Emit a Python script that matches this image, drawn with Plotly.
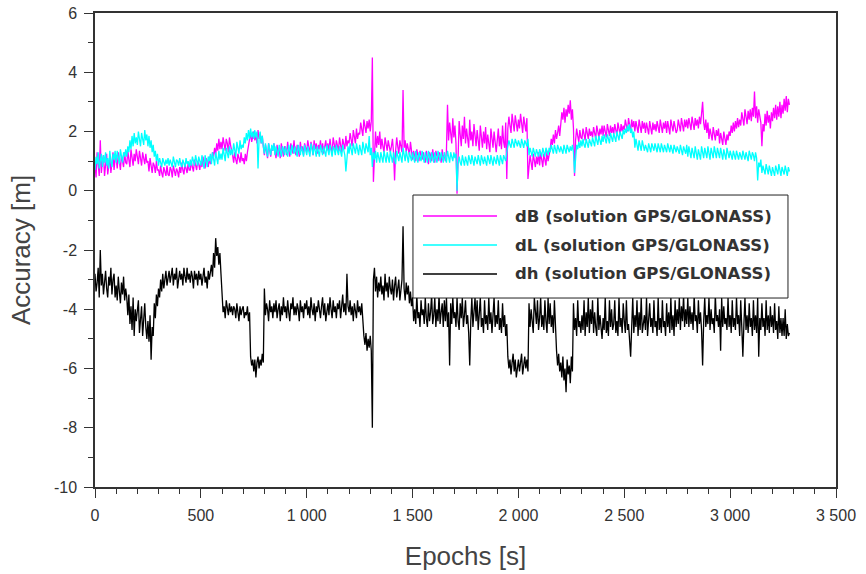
import plotly.graph_objects as go

# Epochs [s] (one sample every 5 s)
epochs = list(range(0, 3285, 5))

# dB (solution GPS/GLONASS) [m]
dB = [
    0.9, 0.45, 1.3, 0.7, 0.5, 1.7, 0.6, 1.0, 1.2, 0.5,
    0.8, 1.25, 0.55, 1.0, 1.15, 0.6, 0.95, 1.3, 0.7, 1.1,
    1.1, 0.75, 1.3, 0.9, 0.7, 1.2, 1.05, 0.8, 1.3, 0.95,
    0.9, 1.35, 1.05, 0.8, 1.4, 1.15, 0.85, 1.25, 1.0, 1.4,
    1.2, 0.9, 1.35, 1.0, 0.85, 1.3, 1.15, 0.9, 1.25, 0.95,
    1.0, 0.65, 1.1, 0.75, 0.6, 0.95, 0.85, 0.6, 1.0, 0.7,
    0.7, 0.5, 0.85, 0.6, 0.45, 0.8, 0.65, 0.5, 0.85, 0.55,
    0.5, 0.8, 0.7, 0.45, 0.85, 0.6, 0.5, 0.75, 0.65, 0.45,
    0.8, 0.6, 0.95, 0.7, 0.55, 0.9, 0.75, 0.6, 0.95, 0.7,
    0.7, 1.0, 0.8, 0.65, 1.05, 0.85, 0.7, 1.0, 0.9, 0.7,
    1.0, 0.8, 1.15, 0.9, 0.75, 1.1, 1.0, 0.8, 1.15, 0.9,
    1.0, 1.3, 1.15, 1.45, 1.2, 1.6, 1.35, 1.75, 1.4, 1.65,
    1.4, 1.8, 1.5, 1.35, 1.75, 1.6, 1.3, 1.8, 1.55, 1.4,
    1.2, 0.95, 1.3, 1.05, 0.9, 1.25, 1.1, 0.95, 1.3, 1.0,
    1.1, 0.9, 1.25, 1.0, 1.3, 1.55, 1.7, 1.95, 1.65, 1.9,
    2.0, 1.7, 1.9, 1.6, 2.05, 1.75, 1.9, 1.6, 1.85, 1.5,
    1.2, 1.55, 1.3, 1.1, 1.6, 1.4, 1.15, 1.5, 1.35, 1.6,
    1.3, 1.1, 1.55, 1.25, 1.45, 1.1, 1.6, 1.3, 1.15, 1.5,
    1.45, 1.2, 1.65, 1.35, 1.15, 1.6, 1.4, 1.25, 1.7, 1.3,
    1.2, 1.55, 1.4, 1.15, 1.65, 1.35, 1.5, 1.2, 1.6, 1.45,
    1.3, 1.7, 1.45, 1.25, 1.65, 1.5, 1.2, 1.7, 1.4, 1.6,
    1.25, 1.55, 1.4, 1.7, 1.3, 1.6, 1.25, 1.5, 1.7, 1.35,
    1.6, 1.3, 1.75, 1.45, 1.3, 1.8, 1.5, 1.35, 1.7, 1.55,
    1.35, 1.8, 1.5, 1.3, 1.75, 1.6, 1.4, 1.85, 1.5, 1.7,
    1.6, 1.95, 1.7, 1.5, 2.05, 1.8, 1.6, 2.1, 1.75, 1.95,
    1.9, 2.3, 2.05, 1.85, 2.4, 2.15, 1.95, 2.35, 2.1, 2.4,
    2.0, 2.35, 4.5, 0.3, 1.6, 2.0, 1.45, 1.85, 1.55, 2.0,
    1.4, 1.75, 1.5, 1.3, 1.8, 1.6, 1.35, 1.7, 1.55, 1.3,
    1.5, 1.75, 1.3, 0.35, 1.35, 1.8, 1.5, 1.25, 1.7, 1.45,
    1.3, 3.4, 1.45, 1.7, 1.3, 1.6, 1.45, 1.2, 1.65, 1.35,
    1.05, 1.35, 1.2, 1.0, 1.4, 1.15, 1.0, 1.35, 1.2, 1.05,
    1.3, 1.1, 0.95, 1.35, 1.15, 0.9, 1.3, 1.2, 1.0, 1.4,
    1.1, 0.95, 1.35, 1.15, 1.0, 1.3, 1.2, 0.95, 1.4, 1.1,
    1.2, 1.0, 1.35, 2.9, 1.7, 2.3, 1.9, 1.6, 2.45, 1.8,
    2.2, 1.6, -0.1, 1.7, 2.35, 1.9, 1.5, 2.2, 1.75, 2.5,
    1.6, 2.1, 1.85, 1.45, 2.4, 1.7, 2.0, 1.5, 2.25, 1.8,
    1.5, 2.05, 1.7, 1.35, 2.2, 1.8, 1.45, 2.0, 1.6, 2.15,
    1.4, 1.9, 1.65, 1.3, 2.1, 1.75, 1.45, 2.0, 1.55, 1.3,
    1.7, 2.1, 1.5, 1.85, 1.4, 2.2, 1.65, 1.45, 2.3, 0.4,
    2.1, 2.5, 2.2, 1.95, 2.6, 2.3, 2.0, 2.55, 2.25, 2.0,
    2.4, 2.1, 2.6, 2.25, 1.95, 2.5, 2.2, 2.0, 2.45, 0.4,
    0.8, 1.2, 0.95, 0.7, 1.25, 1.0, 0.8, 1.15, 0.9, 1.3,
    0.85, 1.3, 1.0, 0.8, 1.25, 1.1, 0.85, 1.35, 1.0, 1.2,
    1.4, 1.75, 1.55, 1.9, 1.6, 2.05, 1.75, 1.95, 2.2, 1.85,
    2.2, 2.65, 2.4, 2.8, 2.3, 2.75, 2.5, 2.9, 2.6, 3.05,
    2.4, 2.75, 2.1, 0.5, 1.7, 2.1, 1.85, 1.65, 2.05, 1.8,
    1.75, 2.1, 1.9, 1.7, 2.15, 1.95, 1.75, 2.1, 1.85, 2.0,
    1.8, 2.15, 1.95, 1.75, 2.2, 2.0, 1.8, 2.1, 1.9, 2.2,
    1.85, 2.2, 2.0, 1.8, 2.25, 2.05, 1.85, 2.2, 1.95, 2.15,
    1.9, 2.25, 2.05, 1.85, 2.3, 2.1, 1.9, 2.25, 2.0, 2.2,
    2.05, 2.4, 2.15, 2.0, 2.45, 2.2, 2.0, 2.4, 2.15, 2.35,
    2.0, 2.35, 2.1, 1.95, 2.4, 2.15, 1.95, 2.35, 2.1, 2.3,
    1.95, 2.3, 2.1, 1.9, 2.35, 2.1, 1.9, 2.3, 2.05, 2.25,
    2.0, 2.35, 2.1, 1.95, 2.4, 2.15, 1.95, 2.3, 2.1, 2.35,
    1.95, 2.35, 2.15, 1.9, 2.4, 2.1, 2.0, 2.35, 2.15, 1.95,
    2.05, 2.4, 2.2, 2.0, 2.45, 2.2, 2.0, 2.4, 2.15, 2.4,
    2.1, 2.45, 2.2, 2.05, 2.5, 2.25, 2.05, 2.45, 2.2, 2.4,
    2.1, 2.5, 2.25, 2.6, 3.0, 2.3, 2.05, 2.4, 1.95, 2.3,
    1.75, 2.1, 1.9, 1.7, 2.15, 1.9, 1.7, 2.05, 1.85, 2.1,
    1.6, 1.95, 1.75, 1.55, 2.0, 1.75, 1.55, 1.9, 1.7, 2.0,
    1.85, 2.2, 1.95, 2.3, 2.0, 2.35, 2.1, 2.45, 2.15, 2.4,
    2.2, 2.65, 2.4, 2.2, 2.75, 2.45, 2.25, 2.7, 2.4, 2.75,
    2.35, 2.8, 2.5, 3.35, 2.45, 2.85, 2.3, 2.75, 2.5, 2.3,
    1.5, 2.25, 2.0, 2.6, 2.2, 2.7, 2.3, 2.55, 2.1, 2.65,
    2.35, 2.8, 2.45, 2.9, 2.4, 2.85, 2.5, 3.0, 2.45, 2.9,
    2.6, 3.1, 2.7, 3.2, 2.65, 3.1, 2.9,
]

# dL (solution GPS/GLONASS) [m]
dL = [
    0.7, 1.15, 0.9, 1.3, 0.75, 1.05, 1.25, 0.8, 1.2, 0.95,
    1.3, 0.85, 1.1, 0.75, 1.35, 1.0, 0.8, 1.25, 1.05, 1.35,
    0.95, 1.35, 1.1, 0.9, 1.4, 1.2, 0.95, 1.3, 1.15, 1.4,
    1.15, 1.5, 1.3, 1.7, 1.4, 1.85, 1.5, 1.95, 1.6, 1.8,
    1.55, 2.0, 1.7, 1.5, 1.95, 1.8, 1.55, 2.05, 1.7, 1.9,
    1.5, 1.85, 1.45, 1.7, 1.3, 1.55, 1.15, 1.35, 1.0, 1.25,
    0.85, 1.1, 0.95, 0.8, 1.1, 1.0, 0.85, 1.05, 0.9, 1.1,
    0.85, 1.05, 0.95, 0.8, 1.15, 0.9, 0.8, 1.05, 1.0, 0.85,
    1.1, 0.9, 0.8, 1.05, 0.95, 0.8, 1.1, 0.9, 1.0, 0.8,
    1.05, 0.85, 1.15, 0.95, 0.85, 1.2, 1.0, 0.85, 1.15, 0.95,
    0.85, 1.2, 0.95, 0.75, 1.2, 1.0, 0.8, 1.15, 1.0, 1.25,
    0.9, 1.3, 1.05, 0.85, 1.3, 1.1, 0.9, 1.35, 1.05, 1.25,
    1.05, 1.45, 1.2, 1.0, 1.45, 1.25, 1.1, 1.5, 1.2, 1.4,
    1.2, 1.6, 1.35, 1.15, 1.65, 1.4, 1.25, 1.7, 1.4, 1.55,
    1.45, 1.8, 1.6, 1.95, 1.7, 2.05, 1.75, 2.1, 1.8, 2.0,
    1.75, 2.05, 1.8, 2.0, 0.75, 1.75, 2.0, 1.6, 1.85, 1.5,
    1.25, 1.6, 1.35, 1.15, 1.6, 1.4, 1.2, 1.55, 1.35, 1.6,
    1.2, 1.5, 1.35, 1.15, 1.55, 1.3, 1.15, 1.5, 1.4, 1.2,
    1.5, 1.3, 1.15, 1.55, 1.35, 1.2, 1.55, 1.4, 1.25, 1.5,
    1.3, 1.15, 1.55, 1.35, 1.2, 1.5, 1.3, 1.15, 1.55, 1.4,
    1.2, 1.5, 1.35, 1.15, 1.6, 1.3, 1.2, 1.55, 1.35, 1.15,
    1.5, 1.3, 1.15, 1.55, 1.35, 1.2, 1.5, 1.3, 1.15, 1.55,
    1.35, 1.2, 1.55, 1.3, 1.15, 1.5, 1.4, 1.2, 1.55, 1.35,
    1.2, 1.5, 1.3, 1.15, 1.55, 1.35, 1.2, 0.65, 1.3, 1.5,
    1.25, 1.6, 1.4, 1.2, 1.6, 1.35, 1.25, 1.6, 1.4, 1.2,
    1.55, 1.35, 1.2, 1.65, 1.4, 1.25, 1.6, 1.45, 1.3, 1.85,
    1.2, 1.45, 0.8, 1.3, 1.05, 1.35, 0.95, 1.3, 1.1, 0.95,
    1.3, 1.1, 0.95, 1.35, 1.15, 0.95, 1.3, 1.1, 0.95, 1.35,
    1.15, 0.95, 1.3, 1.1, 0.9, 1.35, 1.15, 1.0, 1.3, 1.1,
    0.95, 1.45, 1.2, 1.0, 1.35, 1.1, 0.95, 1.3, 1.15, 1.0,
    1.3, 1.15, 0.95, 1.35, 1.1, 0.95, 1.3, 1.15, 1.0, 1.35,
    1.1, 0.95, 1.3, 1.15, 0.95, 1.35, 1.1, 0.95, 1.3, 1.15,
    0.95, 1.3, 1.1, 0.95, 1.35, 1.15, 1.0, 1.3, 1.1, 0.95,
    1.3, 1.15, 0.95, 1.35, 1.1, 0.95, 1.3, 1.15, 1.0, 1.3,
    1.1, 1.25, 0.0, 0.9, 1.15, 0.95, 0.85, 1.2, 1.0, 0.85,
    1.15, 0.95, 0.85, 1.2, 1.05, 0.9, 1.2, 1.0, 0.85, 1.15,
    1.05, 0.9, 1.2, 1.0, 0.85, 1.2, 1.05, 0.9, 1.15, 1.0,
    0.85, 1.2, 1.05, 0.9, 1.2, 1.0, 0.85, 1.15, 1.05, 0.9,
    1.2, 1.0, 0.85, 1.2, 1.05, 0.9, 1.2, 1.1, 1.0, 1.3,
    1.45, 1.7, 1.55, 1.45, 1.75, 1.6, 1.45, 1.75, 1.6, 1.5,
    1.7, 1.55, 1.45, 1.75, 1.6, 1.45, 1.7, 1.6, 1.5, 1.75,
    1.2, 1.45, 1.3, 1.15, 1.45, 1.3, 1.15, 1.4, 1.3, 1.15,
    1.4, 1.25, 1.15, 1.45, 1.3, 1.15, 1.45, 1.3, 1.2, 1.45,
    1.3, 1.55, 1.35, 1.25, 1.55, 1.4, 1.25, 1.55, 1.4, 1.3,
    1.5, 1.35, 1.25, 1.55, 1.4, 1.25, 1.55, 1.4, 1.3, 1.5,
    1.35, 1.55, 1.3, 0.6, 1.3, 1.55, 1.4, 1.65, 1.45, 1.7,
    1.5, 1.75, 1.55, 1.45, 1.75, 1.6, 1.45, 1.75, 1.6, 1.5,
    1.8, 1.6, 1.5, 1.85, 1.7, 1.55, 1.85, 1.65, 1.55, 1.85,
    1.65, 1.9, 1.75, 1.6, 1.9, 1.75, 1.6, 1.95, 1.75, 1.65,
    1.95, 1.75, 1.65, 2.0, 1.85, 1.7, 2.0, 1.85, 1.75, 2.05,
    1.9, 2.1, 1.95, 2.2, 2.0, 2.25, 1.95, 2.1, 1.8, 2.0,
    1.45, 1.75, 1.5, 1.35, 1.7, 1.55, 1.35, 1.7, 1.5, 1.35,
    1.55, 1.4, 1.3, 1.6, 1.45, 1.3, 1.6, 1.45, 1.35, 1.6,
    1.45, 1.3, 1.6, 1.4, 1.3, 1.6, 1.45, 1.3, 1.55, 1.4,
    1.3, 1.6, 1.45, 1.3, 1.55, 1.4, 1.25, 1.55, 1.45, 1.3,
    1.5, 1.35, 1.25, 1.55, 1.4, 1.2, 1.5, 1.35, 1.25, 1.55,
    1.15, 1.5, 1.3, 1.1, 1.45, 1.3, 1.1, 1.5, 1.25, 1.05,
    1.4, 1.2, 1.05, 1.5, 1.3, 1.1, 1.45, 1.3, 1.1, 1.5,
    1.25, 1.05, 1.45, 1.3, 1.1, 1.5, 1.3, 1.1, 1.45, 1.25,
    1.1, 1.45, 1.25, 1.05, 1.4, 1.2, 1.05, 1.45, 1.25, 1.1,
    1.35, 1.15, 1.05, 1.35, 1.2, 1.05, 1.35, 1.2, 1.05, 1.3,
    1.15, 1.05, 1.35, 1.2, 1.05, 1.3, 1.15, 1.0, 1.35, 1.2,
    1.05, 1.3, 1.2, 1.0, 1.3, 1.1, 0.35, 0.95, 0.8, 1.05,
    0.6, 0.85, 0.7, 0.55, 0.9, 0.7, 0.55, 0.85, 0.65, 0.5,
    0.8, 0.65, 0.5, 0.85, 0.7, 0.55, 0.9, 0.65, 0.5, 0.8,
    0.7, 0.55, 0.85, 0.65, 0.5, 0.8, 0.65,
]

# dh (solution GPS/GLONASS) [m]
dh = [
    -2.8, -3.4, -3.1, -2.6, -3.6, -2.0, -3.2, -2.8, -3.5, -3.0,
    -2.7, -3.3, -3.6, -2.9, -3.2, -2.6, -3.5, -3.0, -2.8, -3.6,
    -3.2, -3.7, -2.9, -3.4, -3.8, -3.1, -3.5, -2.9, -3.7, -3.3,
    -3.6, -4.2, -3.5, -4.5, -3.9, -4.7, -3.6, -4.9, -4.0, -4.4,
    -4.1, -3.7, -4.8, -4.3, -3.9, -4.9, -4.2, -3.8, -4.6, -5.0,
    -4.4, -5.1, -4.2, -5.7, -4.6, -4.9, -3.8, -4.3, -3.5, -3.9,
    -3.3, -3.6, -3.0, -3.4, -2.8, -3.3, -3.0, -2.7, -3.2, -2.9,
    -2.7, -3.1, -2.9, -2.6, -3.2, -2.8, -3.0, -2.6, -3.3, -2.9,
    -2.7, -3.0, -2.8, -3.2, -2.6, -2.9, -3.1, -2.6, -3.0, -2.8,
    -3.1, -2.7, -2.9, -3.3, -2.7, -3.0, -2.8, -3.2, -2.7, -3.0,
    -2.8, -3.2, -2.9, -2.6, -3.1, -2.9, -3.3, -2.7, -3.0, -2.8,
    -2.5, -2.9, -2.1, -2.6, -1.6, -2.2, -1.9, -2.5, -2.1, -2.8,
    -3.8, -4.1, -3.9, -4.3, -3.7, -4.0, -4.2, -3.8, -4.1, -3.9,
    -4.2, -3.9, -4.0, -4.3, -3.8, -4.1, -4.4, -3.9, -4.2, -4.0,
    -3.9, -4.3, -4.1, -4.2, -3.9, -4.4, -4.1, -5.6, -5.9, -5.7,
    -6.1, -5.7, -6.3, -5.8, -5.6, -6.0, -5.7, -5.9, -5.5, -5.8,
    -3.3, -4.2, -3.8, -4.0, -4.4, -3.7, -4.1, -3.9, -4.3, -3.8,
    -4.1, -3.7, -4.3, -4.0, -3.8, -4.4, -3.9, -4.2, -3.6, -4.1,
    -3.9, -4.3, -3.7, -4.1, -4.4, -3.8, -4.0, -3.6, -4.2, -3.9,
    -4.2, -3.8, -4.0, -4.4, -3.7, -4.1, -3.9, -4.3, -3.8, -4.0,
    -3.7, -4.2, -3.9, -4.3, -3.6, -4.0, -4.2, -3.8, -4.4, -3.9,
    -4.1, -3.7, -4.0, -4.3, -3.9, -3.6, -4.2, -3.8, -4.4, -4.0,
    -3.8, -4.2, -3.6, -4.0, -4.3, -3.7, -4.1, -3.9, -4.3, -3.8,
    -4.0, -3.7, -4.3, -3.9, -3.5, -4.1, -3.8, -4.2, -2.8, -3.9,
    -4.1, -3.7, -4.2, -3.9, -4.4, -3.8, -4.0, -4.3, -3.7, -4.1,
    -3.9, -4.2, -3.8, -4.6, -4.9, -5.2, -4.8, -5.4, -5.0, -5.3,
    -4.9, -5.4, -8.0, -3.0, -2.6, -3.4, -2.9, -3.6, -3.1, -3.4,
    -2.9, -3.5, -3.2, -3.7, -2.8, -3.4, -3.1, -3.6, -2.9, -3.3,
    -3.5, -3.0, -3.7, -3.2, -2.9, -3.6, -3.3, -3.0, -3.7, -3.2,
    -3.0, -1.2, -3.3, -3.7, -3.1, -3.5, -3.2, -3.8, -3.4, -3.9,
    -3.6, -4.4, -4.0, -4.5, -3.5, -4.3, -4.1, -4.6, -3.7, -4.2,
    -4.0, -4.5, -3.6, -4.3, -4.6, -3.8, -4.4, -4.1, -3.5, -4.5,
    -4.2, -3.6, -4.6, -4.0, -4.4, -3.5, -4.5, -4.1, -3.8, -4.6,
    -3.7, -4.4, -3.6, -4.6, -4.1, -5.9, -3.8, -4.5, -3.6, -4.3,
    -4.1, -4.6, -3.6, -4.4, -4.7, -3.8, -4.3, -3.6, -4.6, -4.2,
    -3.7, -4.5, -4.2, -4.8, -5.9, -4.4, -3.6, -4.6, -4.2, -3.6,
    -4.4, -3.7, -4.7, -4.2, -3.6, -4.6, -4.3, -4.8, -3.7, -4.5,
    -4.2, -4.7, -3.6, -4.5, -4.1, -4.8, -4.3, -3.6, -4.6, -4.2,
    -4.5, -3.7, -4.7, -4.3, -4.8, -3.8, -4.6, -4.2, -4.9, -4.5,
    -5.6, -6.0, -5.7, -6.2, -5.8, -5.5, -6.1, -5.7, -6.3, -5.9,
    -5.7, -6.1, -5.8, -5.5, -6.2, -5.9, -5.6, -6.0, -5.7, -6.1,
    -3.8, -4.6, -4.0, -4.4, -4.8, -3.6, -4.2, -4.5, -3.7, -4.7,
    -4.3, -3.6, -4.6, -4.2, -4.7, -3.7, -4.4, -4.8, -3.6, -4.5,
    -3.8, -4.6, -4.2, -4.8, -3.7, -4.9, -5.4, -5.9, -5.5, -6.1,
    -5.8, -6.3, -5.6, -6.4, -6.0, -6.8, -5.7, -6.2, -5.9, -6.5,
    -5.6, -6.1, -3.8, -4.7, -4.3, -4.9, -3.7, -4.6, -4.4, -4.8,
    -4.2, -4.7, -3.7, -4.9, -4.1, -4.6, -3.6, -4.8, -4.0, -4.5,
    -3.7, -4.8, -4.1, -4.6, -4.9, -3.6, -4.7, -4.2, -4.5, -5.0,
    -4.3, -4.7, -3.6, -4.8, -4.4, -4.9, -3.7, -4.6, -4.0, -4.7,
    -4.5, -3.7, -4.8, -4.4, -4.9, -3.6, -4.6, -4.3, -4.8, -3.8,
    -4.4, -4.8, -3.7, -4.7, -4.5, -5.0, -5.6, -4.6, -3.6, -4.8,
    -4.2, -4.6, -3.7, -4.9, -4.1, -4.7, -3.6, -4.8, -4.5, -4.2,
    -4.7, -3.6, -4.9, -4.4, -3.8, -4.6, -4.3, -4.8, -3.7, -4.6,
    -4.4, -4.9, -3.6, -4.7, -4.3, -4.8, -3.7, -4.6, -4.4, -4.9,
    -3.8, -4.6, -4.1, -4.8, -3.6, -4.7, -4.2, -4.9, -3.7, -4.6,
    -4.0, -4.5, -3.6, -4.7, -3.9, -4.4, -3.5, -4.6, -4.0, -4.5,
    -3.6, -4.6, -3.9, -4.5, -4.1, -4.7, -3.5, -4.4, -4.2, -4.8,
    -3.7, -4.5, -4.1, -4.7, -5.9, -4.4, -3.6, -4.6, -4.2, -4.5,
    -3.6, -4.7, -4.0, -4.5, -4.3, -4.8, -3.5, -4.4, -4.2, -4.6,
    -4.0, -5.4, -3.6, -4.6, -3.9, -4.5, -4.3, -4.7, -3.6, -4.6,
    -4.2, -4.8, -3.7, -4.6, -4.3, -4.7, -3.6, -4.5, -4.2, -4.9,
    -3.7, -4.6, -5.6, -4.5, -3.6, -4.7, -4.2, -4.8, -3.8, -4.6,
    -4.3, -4.9, -3.7, -4.7, -4.2, -4.8, -3.6, -5.6, -4.3, -4.7,
    -3.8, -4.6, -4.3, -4.9, -3.7, -4.7, -4.2, -4.8, -3.9, -4.6,
    -4.2, -4.8, -3.8, -4.7, -4.4, -5.0, -3.9, -4.8, -4.3, -4.9,
    -4.3, -4.9, -4.0, -5.0, -4.5, -4.9, -4.8,
]

series_names = ["dB (solution GPS/GLONASS)",
                "dL (solution GPS/GLONASS)",
                "dh (solution GPS/GLONASS)"]
series_colors = ["#FF00FF", "#00FFFF", "#000000"]

x_tick_vals = [0, 500, 1000, 1500, 2000, 2500, 3000, 3500]
x_tick_labels = ["0", "500", "1 000", "1 500", "2 000", "2 500", "3 000", "3 500"]
y_tick_vals = [-10, -8, -6, -4, -2, 0, 2, 4, 6]
y_tick_labels = ["-10", "-8", "-6", "-4", "-2", "0", "2", "4", "6"]

fig = go.Figure()
for name, ys, col in zip(series_names, [dB, dL, dh], series_colors):
    fig.add_trace(go.Scatter(x=epochs[:len(ys)], y=ys, mode="lines", name=name,
                             line=dict(color=col, width=1.3), showlegend=False))

tick_font = dict(family="Liberation Sans, Arial, sans-serif", size=16, color="#333333")
title_font = dict(family="Liberation Sans, Arial, sans-serif", size=26, color="#444444")

axis_common = dict(showline=True, linecolor="#333333", linewidth=1.5, mirror=True,
                   ticks="outside", ticklen=9, tickwidth=1.2, tickcolor="#333333",
                   showgrid=False, zeroline=False, tickfont=tick_font)

fig.update_xaxes(range=[0, 3500], tickmode="array", tickvals=x_tick_vals,
                 ticktext=x_tick_labels, ticklabelstandoff=4,
                 minor=dict(ticks="outside", ticklen=5, tickwidth=1.2,
                            tickcolor="#333333", dtick=100, tick0=0, showgrid=False),
                 title=dict(text="Epochs [s]", font=title_font, standoff=24),
                 **axis_common)
fig.update_yaxes(range=[-10, 6], tickmode="array", tickvals=y_tick_vals,
                 ticktext=y_tick_labels, ticklabelstandoff=4,
                 minor=dict(ticks="outside", ticklen=5, tickwidth=1.2,
                            tickcolor="#333333", dtick=1, tick0=0, showgrid=False),
                 title=dict(text="Accuracy [m]", font=title_font, standoff=16),
                 **axis_common)

# Legend box (drawn over the data, as in the original figure)
leg_x0, leg_x1, leg_y0, leg_y1 = 0.4291, 0.9352, 0.3987, 0.6160
leg_line_x0, leg_line_x1, leg_text_x = 0.4426, 0.5425, 0.5641
leg_rows = [0.5717, 0.5105, 0.4494]

shapes = [dict(type="rect", xref="paper", yref="paper", x0=leg_x0, x1=leg_x1,
               y0=leg_y0, y1=leg_y1, fillcolor="white",
               line=dict(color="#222222", width=1), layer="above")]
annotations = []
for name, col, yr in zip(series_names, series_colors, leg_rows):
    shapes.append(dict(type="line", xref="paper", yref="paper", x0=leg_line_x0,
                       x1=leg_line_x1, y0=yr, y1=yr,
                       line=dict(color=col, width=1.5), layer="above"))
    annotations.append(dict(xref="paper", yref="paper", x=leg_text_x, y=yr,
                            xanchor="left", yanchor="middle", showarrow=False,
                            text=name,
                            font=dict(family="DejaVu Sans, sans-serif", size=16.5,
                                      color="#333333", weight="bold")))

fig.update_layout(
    width=866, height=574,
    margin=dict(l=95, r=30, t=13, b=87, autoexpand=False),
    paper_bgcolor="white", plot_bgcolor="white",
    showlegend=False,
    shapes=shapes, annotations=annotations,
)

fig.write_html("out.html")
